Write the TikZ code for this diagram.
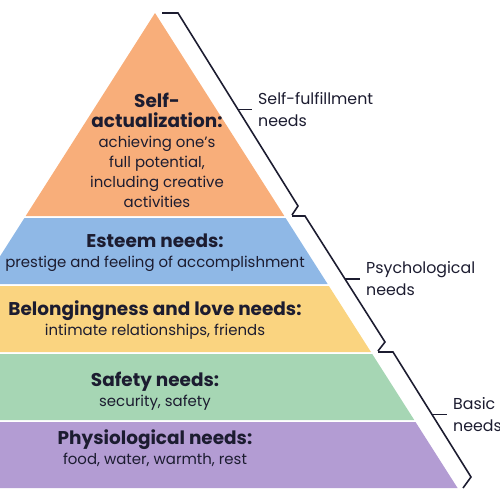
\documentclass[tikz,border=0pt]{standalone}
\usepackage{fontspec}
\setmainfont{Poppins}
\usepackage{tikz}
\usetikzlibrary{calc}

\definecolor{selfpeach}{RGB}{248,174,122}
\definecolor{esteemblue}{RGB}{143,184,230}
\definecolor{lovegold}{RGB}{250,212,128}
\definecolor{safegreen}{RGB}{166,214,180}
\definecolor{physlilac}{RGB}{179,156,211}
\definecolor{inkblue}{RGB}{28,28,48}

\tikzset{
  level/.style={align=center, text=inkblue, font=\fontsize{8.5}{11.4}\selectfont},
  needtag/.style={anchor=west, align=left, text=inkblue, font=\fontsize{9}{12.5}\selectfont},
  bracket/.style={inkblue, line width=0.9pt},
  declare function={hw(\y)=0.637*(\y-13);}
}
\newcommand{\hd}[1]{{\fontsize{10.5}{11.4}\selectfont\bfseries #1}}

\begin{document}
\begin{tikzpicture}[x=0.2mm, y=-0.2mm]
  \useasboundingbox (0,0) rectangle (500,500);
  \clip (0,0) rectangle (500,500);
  % ---------- the pyramid, apex at x=155 ----------
  \fill[selfpeach] (155,13) -- ({155+hw(216)},216) -- ({155-hw(216)},216) -- cycle;
  \foreach \ya/\yb/\col in {218/284/esteemblue, 286/352/lovegold, 354/420/safegreen, 422/488/physlilac}
    \fill[\col] ({155-hw(\ya)},\ya) -- ({155+hw(\ya)},\ya) -- ({155+hw(\yb)},\yb) -- ({155-hw(\yb)},\yb) -- cycle;
  % ---------- level texts ----------
  \node[level] (selfact) at (157,150)
    {\hd{Self-}\\\hd{actualization:}\\achieving one's\\full potential,\\including creative\\activities};
  \node[level] (esteem) at (155,253) {\hd{Esteem needs:}\\prestige and feeling of accomplishment};
  \node[level] (belong) at (155,320) {\hd{Belongingness and love needs:}\\intimate relationships, friends};
  \node[level] (safety) at (155,391) {\hd{Safety needs:}\\security, safety};
  \node[level] (physio) at (155,448) {\hd{Physiological needs:}\\food, water, warmth, rest};
  % ---------- bracket 1: self-fulfillment ----------
  \coordinate (f1) at (162,13);  \coordinate (f2) at (178,13);
  \coordinate (f3) at (298,206); \coordinate (f4) at (292,215);
  \draw[bracket] (f1) -- (f2) -- (f3) -- (f4);
  \coordinate (fm) at ($(f2)!0.5!(f3)$);
  \draw[bracket] (fm) -- ++(14,0) coordinate (fx);
  \node[needtag] (fulfil) at (fx) {Self-fulfillment\\needs};
  % ---------- bracket 2: psychological ----------
  \coordinate (p1) at (292,216); \coordinate (p2) at (305,216);
  \coordinate (p3) at (385,342); \coordinate (p4) at (378,351);
  \draw[bracket] (p1) -- (p2) -- (p3) -- (p4);
  \coordinate (pm) at ($(p2)!0.5!(p3)$);
  \draw[bracket] (pm) -- ++(15,0) coordinate (px);
  \node[needtag] (psych) at (px) {Psychological\\needs};
  % ---------- bracket 3: basic ----------
  \coordinate (b1) at (378,352); \coordinate (b2) at (393,352);
  \coordinate (b3) at (471,477); \coordinate (b4) at (463,488);
  \draw[bracket] (b1) -- (b2) -- (b3) -- (b4);
  \coordinate (bm) at ($(b2)!0.5!(b3)$);
  \draw[bracket] (bm) -- ++(15,0) coordinate (bx);
  \node[needtag] (basic) at (bx) {Basic\\needs};
\end{tikzpicture}
\end{document}
